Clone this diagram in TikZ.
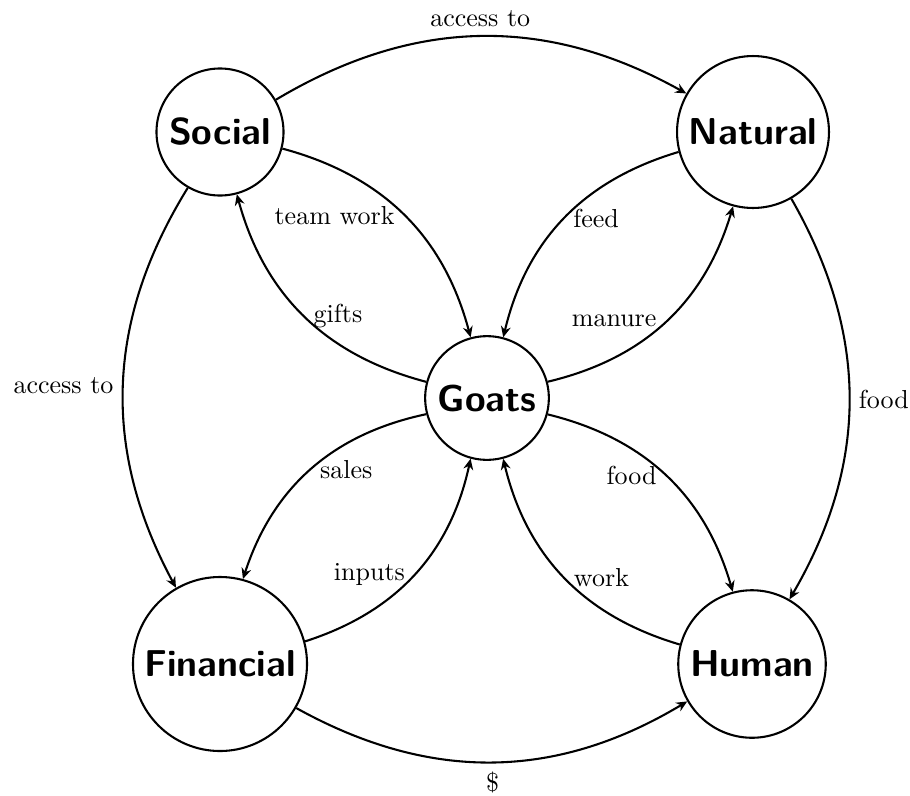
\documentclass[tikz,border=0pt]{standalone}
\usetikzlibrary{arrows.meta}
\begin{document}
\begin{tikzpicture}[x=0.38462pt,y=0.38462pt,
  capital/.style={circle,draw,thick,font=\Large\bfseries\sffamily,inner sep=3.333pt},
  link/.style={-{Stealth[length=4.2pt,width=3.8pt,inset=1.4pt]},thick},
  every node/.append style={}]
\useasboundingbox (0,0) rectangle (910,795);
\node[capital] (S) at (220,663) {Social};
\node[capital] (N) at (753,663) {Natural};
\node[capital] (G) at (487,397) {Goats};
\node[capital] (F) at (220,131) {Financial};
\node[capital] (H) at (752,131) {Human};
% outer ring
\draw[link] (S) to[bend left=30] node[above] {access to} (N);
\draw[link] (S) to[bend right=30] node[left] {access to} (F);
\draw[link] (N) to[bend left=30] node[right] {food} (H);
\draw[link] (F) to[bend right=30] node[below] {\$} (H);
% inner lenses
\draw[link] (S) to[bend left=30] node[left] {team work} (G);
\draw[link] (G) to[bend left=30] node[right] {gifts} (S);
\draw[link] (N) to[bend right=30] node[right] {feed} (G);
\draw[link] (G) to[bend right=30] node[left] {manure} (N);
\draw[link] (G) to[bend right=30] node[right] {sales} (F);
\draw[link] (F) to[bend right=30] node[left] {inputs} (G);
\draw[link] (G) to[bend left=30] node[left] {food} (H);
\draw[link] (H) to[bend left=30] node[right] {work} (G);
\end{tikzpicture}
\end{document}
